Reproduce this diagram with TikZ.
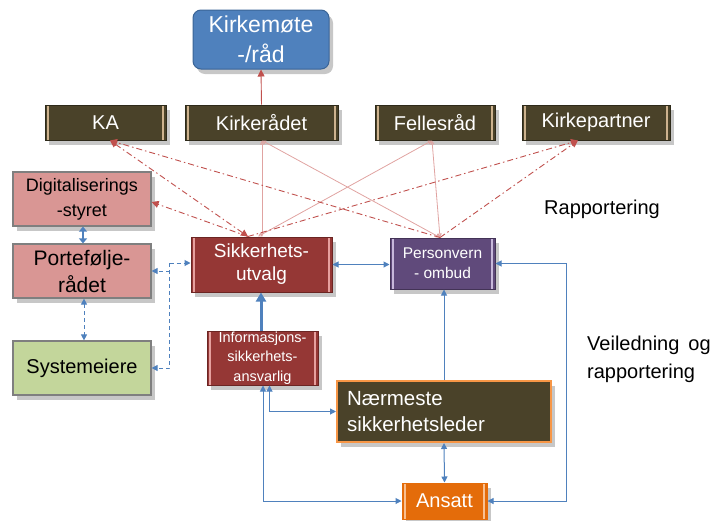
\documentclass[tikz,border=0pt]{standalone}
\usepackage{fontspec}
\setmainfont{Liberation Sans}
\usetikzlibrary{arrows.meta,shadows,calc}
\definecolor{cOlive}{HTML}{4A4229}
\definecolor{cOliveEdge}{HTML}{2E2A1A}
\definecolor{cBeige}{HTML}{CDB28E}
\definecolor{cBlueBox}{HTML}{4F81BD}
\definecolor{cBlueEdge}{HTML}{3A6496}
\definecolor{cPink}{HTML}{D99694}
\definecolor{cGreen}{HTML}{C3D69B}
\definecolor{cGrayEdge}{HTML}{7F7F7F}
\definecolor{cDarkRed}{HTML}{953735}
\definecolor{cDarkRedEdge}{HTML}{6B2523}
\definecolor{cRedBar}{HTML}{E6A09E}
\definecolor{cPurple}{HTML}{604A7B}
\definecolor{cPurpleEdge}{HTML}{433356}
\definecolor{cLavender}{HTML}{C7B8DA}
\definecolor{cOrange}{HTML}{E46C0A}
\definecolor{cOrangeLight}{HTML}{F79646}
\definecolor{cOrangeBar}{HTML}{FAC090}
\definecolor{cRedLine}{HTML}{C0504D}
\definecolor{cPinkLine}{HTML}{E0A3A1}
\definecolor{cBlueLine}{HTML}{4F81BD}
\begin{document}
\begin{tikzpicture}[x=1pt,y=-1pt,
  shade/.style={drop shadow={shadow xshift=4pt,shadow yshift=-5pt,opacity=0.22,fill=black}},
  bars/.style={path picture={
    \draw[#1,line width=1.6pt] ([xshift=3pt]path picture bounding box.south west) -- ([xshift=3pt]path picture bounding box.north west);
    \draw[#1,line width=1.6pt] ([xshift=-3pt]path picture bounding box.south east) -- ([xshift=-3pt]path picture bounding box.north east);}},
  topbox/.style={shade,draw=cOliveEdge,line width=1pt,fill=cOlive,text=white,bars=cBeige,
    font=\fontsize{20}{22}\selectfont,minimum height=35,inner sep=0pt},
  pinkbox/.style={shade,draw=cGrayEdge,line width=1.2pt,fill=cPink,text=black,align=center,
    minimum width=138,minimum height=54,inner sep=0pt},
  redbox/.style={shade,draw=cDarkRedEdge,line width=1pt,fill=cDarkRed,text=white,bars=cRedBar,align=center,inner sep=0pt},
  plain/.style={font=\fontsize{20}{28}\selectfont,align=left,inner sep=0pt},
  redline/.style={draw=cRedLine,line width=0.9pt},
  pinkline/.style={draw=cPinkLine,line width=0.8pt},
  dashdot/.style={draw=cRedLine,line width=0.9pt,dash pattern=on 6pt off 3pt on 1.5pt off 3pt},
  blueline/.style={draw=cBlueLine,line width=1pt},
  bluedash/.style={draw=cBlueLine,line width=1pt,dash pattern=on 4pt off 3pt},
  tip/.tip={Triangle[length=6pt,width=6pt]},
  rtip/.tip={Triangle[length=7pt,width=7pt]},
  stip/.tip={Triangle[open,length=4pt,width=4pt]}
]
\useasboundingbox (0,0) rectangle (715,520);

% ---- nodes ----
\node[shade,draw=cBlueEdge,line width=1pt,fill=cBlueBox,rounded corners=8pt,text=white,align=center,
  font=\fontsize{23}{30}\selectfont,minimum width=136,minimum height=59,inner sep=0pt]
  (kirkemote) at (261,39.5) {Kirkemøte\\-/råd};

\node[topbox,minimum width=121] (ka) at (105.5,122.5) {KA};
\node[topbox,minimum width=153] (kirkeradet) at (261.5,122.5) {Kirkerådet};
\node[topbox,minimum width=120] (felles) at (435,122.5) {Fellesråd};
\node[topbox,minimum width=148] (kirkepartner) at (596,122.5) {Kirkepartner};

\node[pinkbox,font=\fontsize{18}{25}\selectfont] (digi) at (82,199) {Digitaliserings\\-styret};
\node[pinkbox,font=\fontsize{21}{27}\selectfont] (portef) at (82,271) {Portefølje-\\rådet};
\node[pinkbox,fill=cGreen,font=\fontsize{20}{22}\selectfont] (system) at (82,368) {Systemeiere};

\node[redbox,minimum width=141,minimum height=55,font=\fontsize{19}{23}\selectfont]
  (sikk) at (261.5,264.5) {Sikkerhets-\\utvalg};
\node[shade,draw=cPurpleEdge,line width=1pt,fill=cPurple,text=white,bars=cLavender,align=center,inner sep=0pt,
  minimum width=105,minimum height=51,font=\fontsize{15.5}{20}\selectfont]
  (personvern) at (442.5,263.5) {Personvern\\- ombud};
\node[redbox,minimum width=111,minimum height=54,font=\fontsize{14.5}{19.5}\selectfont]
  (infosik) at (262.5,358) {Informasjons-\\sikkerhets-\\ansvarlig};
\node[shade,draw=cOrangeLight,line width=2pt,fill=cOlive,text=white,align=left,inner sep=0pt,
  minimum width=214,minimum height=61,text width=194,font=\fontsize{20.5}{26}\selectfont]
  (naermeste) at (444,411.5) {Nærmeste\\sikkerhetsleder};
\node[shade,draw=cOrange,line width=1pt,fill=cOrange,text=white,bars=cOrangeBar,inner sep=0pt,
  minimum width=85,minimum height=36,font=\fontsize{20}{22}\selectfont]
  (ansatt) at (444.5,501) {Ansatt};

\node[plain] (rapp) at (602,209) {Rapportering};
\node[plain,anchor=west] (veil) at (587,359) {Veiledning\hspace{9pt}og\\rapportering};

% ---- red / pink connectors ----
\draw[redline,-rtip] (kirkeradet.north) -- (kirkemote.south);

\coordinate (kaB) at ([xshift=4.5pt]ka.south);
\coordinate (kpB) at ([xshift=-18pt]kirkepartner.south);
\coordinate (sikT) at ([xshift=-13.5pt]sikk.north);
\coordinate (pvT) at ([xshift=-2.5pt]personvern.north);
\coordinate (krB) at ([xshift=0.5pt]kirkeradet.south);
\coordinate (feB) at ([xshift=-3pt]felles.south);

\draw[pinkline,stip-stip] (krB) -- (krB |- sikk.north);
\draw[pinkline,stip-stip] (krB) -- (pvT);
\draw[pinkline,stip-stip] (feB) -- ([xshift=-3.5pt]sikk.north);
\draw[pinkline,stip-stip] (feB) -- (pvT);

\draw[dashdot,rtip-rtip] (sikT) -- (kaB);
\draw[dashdot,-rtip] (sikT) -- ([yshift=-3pt]digi.east);
\draw[dashdot,-rtip] (sikT) -- (kpB);
\draw[dashdot,-rtip] (pvT) -- (kaB);
\draw[dashdot,-rtip] (pvT) -- (kpB);

% ---- blue connectors ----
\draw[blueline,line width=2.5pt,{Triangle[length=5pt,width=8pt]}-{Triangle[length=5pt,width=8pt]}]
  ([xshift=1pt]digi.south) -- ([xshift=1pt]portef.north);
\draw[bluedash,tip-tip] ([xshift=2pt]portef.south) -- ([xshift=2pt]system.north);

\coordinate (J) at ($(sikk.west)+(-21,-1.5)$);
\draw[bluedash,-tip] (J) -- (J -| sikk.west);
\draw[bluedash,-tip] (J) |- (system.east);
\draw[bluedash,-tip] (J |- portef.east) -- (portef.east);

\draw[blueline,line width=3pt,-{Triangle[length=9pt,width=10pt]}] ([xshift=-1.5pt]infosik.north) -- ([xshift=-1.5pt]infosik.north |- sikk.south);
\draw[blueline,tip-tip] (sikk.east) -- (sikk.east -| personvern.west);
\draw[blueline,-tip] (naermeste.north) -- (naermeste.north |- personvern.south);
\draw[blueline,tip-tip] (personvern.east) -- ++(71,0) |- (ansatt.east);
\draw[blueline,tip-tip] (naermeste.south) -- (ansatt.north);
\draw[blueline,tip-tip] ([xshift=7pt]infosik.south) |- (naermeste.west);
\draw[blueline,tip-tip] ([xshift=0.5pt]infosik.south) |- (ansatt.west);
\end{tikzpicture}
\end{document}
